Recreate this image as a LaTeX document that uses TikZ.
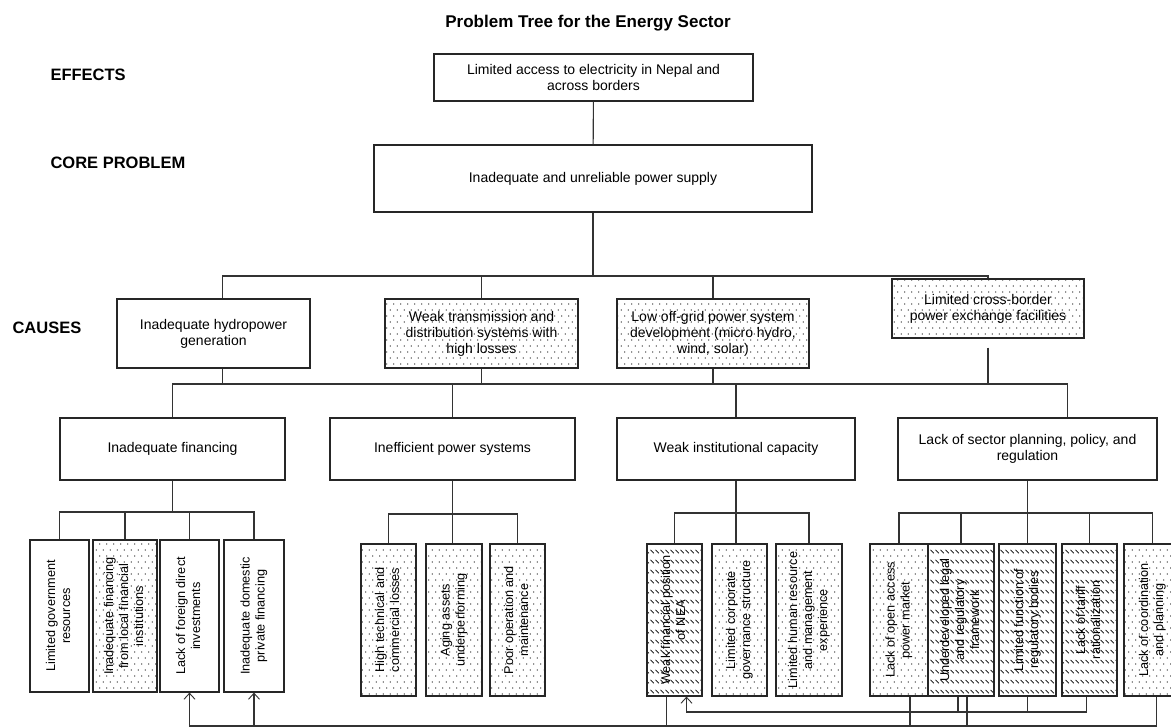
\documentclass[tikz,border=0pt]{standalone}
\usepackage{fontspec}
\setmainfont{Liberation Sans}
\usetikzlibrary{patterns,arrows.meta}

\pgfdeclarepatternformonly{sparsedots}{\pgfpoint{-1pt}{-1pt}}{\pgfpoint{8pt}{13pt}}{\pgfpoint{7pt}{12pt}}{%
  \pgfpathcircle{\pgfpoint{1.75pt}{3pt}}{0.6pt}%
  \pgfpathcircle{\pgfpoint{5.25pt}{9pt}}{0.6pt}%
  \pgfusepath{fill}}
\pgfdeclarepatternformonly{shorthatch}{\pgfpoint{-1pt}{-1pt}}{\pgfpoint{6pt}{11pt}}{\pgfpoint{5pt}{10pt}}{%
  \pgfsetlinewidth{0.7pt}%
  \pgfpathmoveto{\pgfpoint{0.5pt}{7pt}}%
  \pgfpathlineto{\pgfpoint{3.8pt}{3.7pt}}%
  \pgfusepath{stroke}}

\newcommand{\vlabel}[1]{\rotatebox{90}{\begin{tabular}{@{}c@{}}#1\end{tabular}}}

\tikzset{
  plainbox/.style={rectangle, draw=black!85, line width=1.2pt, align=center, inner sep=2pt, font=\fontsize{14}{16}\selectfont},
  dotbox/.style={plainbox, pattern=sparsedots},
  leafbox/.style={rectangle, draw=black!85, line width=1.2pt, inner sep=0pt, minimum height=152, font=\fontsize{12.7}{15}\selectfont},
  leafdot/.style={leafbox, pattern=sparsedots},
  leafhatch/.style={leafbox, pattern=shorthatch},
  tree/.style={draw=black!80, line width=1.1pt},
  upflow/.style={tree, -{Straight Barb[length=6pt,width=11pt,line width=0.9pt]}},
  lvl/.style={anchor=west, font=\fontsize{16.5}{18}\selectfont\bfseries},
}

\begin{document}
\begin{tikzpicture}[x=1pt,y=-1pt]
\path[use as bounding box, fill=white] (0,0) rectangle (1171,727);
% --- title and row labels ---
\node[font=\fontsize{17}{20}\selectfont\bfseries] (title) at (588,23) {Problem Tree for the Energy Sector};
\node[lvl] (leffects) at (47,75)  {EFFECTS};
\node[lvl] (lcore)    at (47,163) {CORE PROBLEM};
\node[lvl] (lcauses)  at (9,328)  {CAUSES};
% --- effect and core problem ---
\node[plainbox, minimum width=319, minimum height=47] (effect) at (593.5,77.5) {Limited access to electricity in Nepal and\\across borders};
\node[plainbox, minimum width=438, minimum height=67] (core)   at (593,178.5) {Inadequate and unreliable power supply};
% --- causes, first level ---
\node[plainbox, minimum width=193, minimum height=69] (hydro)   at (213.5,333.5) {Inadequate hydropower\\generation};
\node[dotbox,   minimum width=193, minimum height=69] (trans)   at (481.5,333.5) {Weak transmission and\\distribution systems with\\high losses};
\node[dotbox,   minimum width=192, minimum height=69] (offgrid) at (713,333.5)   {Low off-grid power system\\development (micro hydro,\\wind, solar)};
\node[dotbox,   minimum width=192, minimum height=59] (cross)   at (988,308.5)   {Limited cross-border\\power exchange facilities};
% --- causes, second level ---
\node[plainbox, minimum width=225, minimum height=62] (fin)    at (172.5,449) {Inadequate financing};
\node[plainbox, minimum width=245, minimum height=62] (ineff)  at (452.5,449) {Inefficient power systems};
\node[plainbox, minimum width=238, minimum height=62] (weak)   at (736,449)   {Weak institutional capacity};
\node[plainbox, minimum width=259, minimum height=62] (sector) at (1027.5,449) {Lack of sector planning, policy, and\\regulation};
% --- root causes: financing ---
\node[leafbox, minimum width=59] (f1) at (59.5,616) {\vlabel{Limited government\\resources}};
\node[leafdot, minimum width=64] (f2) at (125,616)  {\vlabel{Inadequate financing\\from local financial\\institutions}};
\node[leafbox, minimum width=59] (f3) at (189.5,616) {\vlabel{Lack of foreign direct\\investments}};
\node[leafbox, minimum width=60] (f4) at (254,616)  {\vlabel{Inadequate domestic\\private financing}};
% --- root causes: power systems ---
\node[leafdot, minimum width=55] (i1) at (388.5,620) {\vlabel{High technical and\\commercial losses}};
\node[leafdot, minimum width=56] (i2) at (454,620)   {\vlabel{Aging assets\\underperforming}};
\node[leafdot, minimum width=55] (i3) at (517.5,620) {\vlabel{Poor operation and\\maintenance}};
% --- root causes: institutions ---
\node[leafhatch, minimum width=55] (w1) at (674.5,620) {\vlabel{Weak financial position\\of NEA}};
\node[leafdot,   minimum width=55] (w2) at (739.5,620) {\vlabel{Limited corporate\\governance structure}};
\node[leafdot,   minimum width=66] (w3) at (809,620)   {\vlabel{Limited human resource\\and management\\experience}};
% --- root causes: planning and regulation ---
\node[leafdot,   minimum width=58] (s1) at (899,620)    {\vlabel{Lack of open access\\power market}};
\node[leafhatch, minimum width=66] (s2) at (961,620)    {\vlabel{Underdeveloped legal\\and regulatory\\framework}};
\node[leafhatch, minimum width=57] (s3) at (1027.5,620) {\vlabel{Limited function of\\regulatory bodies}};
\node[leafhatch, minimum width=55] (s4) at (1089.5,620) {\vlabel{Lack of tariff\\rationalization}};
\node[leafdot,   minimum width=57] (s5) at (1152.5,620) {\vlabel{Lack of coordination\\and planning}};
% --- junction heights ---
\coordinate (bar1)  at (0,276);
\coordinate (bar2)  at (0,384);
\coordinate (fbar)  at (0,512);
\coordinate (ibar)  at (0,514);
\coordinate (wbar)  at (0,513);
\coordinate (sbar)  at (0,513);
\coordinate (fback) at (0,712);
\coordinate (bline) at (0,726);
\coordinate (hydroin)  at ([xshift=9]hydro.north);
\coordinate (hydroout) at ([xshift=9]hydro.south);
\coordinate (sectorin) at ([xshift=40]sector.north);
% --- effect / core / first level ---
\draw[tree] (effect) -- (core);
\draw[tree] (core.south) -- (core.south |- bar1);
\draw[tree] (hydroin) -- (hydroin |- bar1) -- (cross.north |- bar1) -- (cross.north);
\foreach \n in {trans,offgrid} {\draw[tree] (\n.north) -- (\n.north |- bar1);}
% --- first level / second level ---
\draw[tree] (fin.north) -- (fin.north |- bar2) -- (sectorin |- bar2) -- (sectorin);
\draw[tree] (hydroout) -- (hydroout |- bar2);
\foreach \n in {trans,offgrid} {\draw[tree] (\n.south) -- (\n.south |- bar2);}
\foreach \n in {ineff,weak} {\draw[tree] (\n.north) -- (\n.north |- bar2);}
\draw[tree, shorten <=9pt] (cross.south) -- (cross.south |- bar2);
% --- second level / root causes ---
\draw[tree] (fin.south) -- (fin.south |- fbar);
\draw[tree] (f1.north) -- (f1.north |- fbar) -- (f4.north |- fbar) -- (f4.north);
\foreach \n in {f2,f3} {\draw[tree] (\n.north) -- (\n.north |- fbar);}
\draw[tree] (ineff.south) -- (ineff.south |- i2.north);
\draw[tree] (i1.north) -- (i1.north |- ibar) -- (i3.north |- ibar) -- (i3.north);
\draw[tree] (weak.south) -- (weak.south |- w2.north);
\draw[tree] (w1.north) -- (w1.north |- wbar) -- (w3.north |- wbar) -- (w3.north);
\draw[tree] (sector.south) -- (sector.south |- s3.north);
\draw[tree] (s1.north) -- (s1.north |- sbar) -- (s5.north |- sbar) -- (s5.north);
\foreach \n in {s2,s4} {\draw[tree] (\n.north) -- (\n.north |- sbar);}
% --- feedback links ---
\coordinate (w1in)  at ([xshift=12]w1.south);
\coordinate (w1out) at ([xshift=-8]w1.south);
\coordinate (s1out) at ([xshift=11]s1.south);
\coordinate (s2in)  at ([xshift=-3]s2.south);
\coordinate (s2out) at ([xshift=6]s2.south);
\coordinate (s4out) at ([xshift=-3]s4.south);
\coordinate (s5out) at ([xshift=4]s5.south);
\draw[upflow] (s4out) |- (w1in |- fback) -- (w1in);
\foreach \n in {s2in,s3.south} {\draw[tree] (\n) -- (\n |- fback);}
\draw[upflow] (s5out) |- (f3.south |- bline) -- (f3.south);
\draw[upflow] (f4.south |- bline) -- (f4.south);
\foreach \n in {w1out,s1out,s2out} {\draw[tree] (\n) -- (\n |- bline);}
\end{tikzpicture}
\end{document}
